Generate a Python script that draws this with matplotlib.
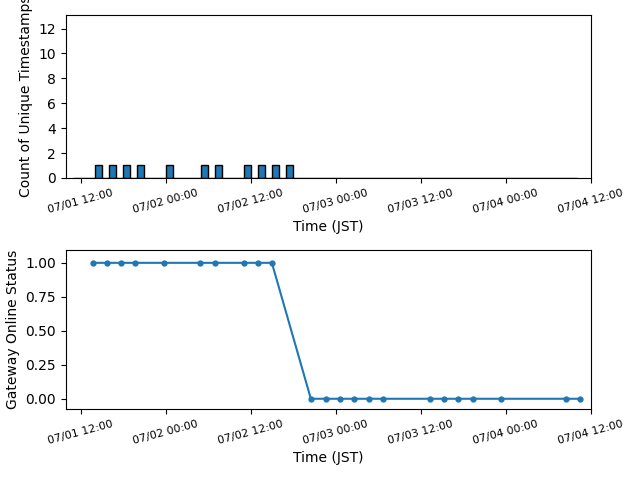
import matplotlib
matplotlib.use("Agg")
import matplotlib.pyplot as plt
import matplotlib.dates as mdates
from matplotlib.ticker import MultipleLocator
import pandas as pd
import numpy as np

# 1時間ごとのビン範囲（各ビンの開始時刻）
bin_start = "2024-07-01 11:00"
bin_end = "2024-07-04 09:00"
# ユニークなタイムスタンプがあった時間帯
bar_hours = ["2024-07-01 14:00", "2024-07-01 16:00", "2024-07-01 18:00", "2024-07-01 20:00",
             "2024-07-02 00:00", "2024-07-02 05:00", "2024-07-02 07:00", "2024-07-02 11:00",
             "2024-07-02 13:00", "2024-07-02 15:00", "2024-07-02 17:00"]
bar_counts = [1, 1, 1, 1, 1, 1, 1, 1, 1, 1, 1]

# ゲートウェイのオンライン状態
status_times = ["2024-07-01 13:45", "2024-07-01 15:45", "2024-07-01 17:45", "2024-07-01 19:45",
                "2024-07-01 23:45", "2024-07-02 04:50", "2024-07-02 07:00", "2024-07-02 11:05",
                "2024-07-02 13:05", "2024-07-02 15:00", "2024-07-02 20:30", "2024-07-02 22:35",
                "2024-07-03 00:35", "2024-07-03 02:35", "2024-07-03 04:40", "2024-07-03 06:40",
                "2024-07-03 13:15", "2024-07-03 15:15", "2024-07-03 17:15", "2024-07-03 19:20",
                "2024-07-03 23:20", "2024-07-04 08:30", "2024-07-04 10:30"]
status_values = [1, 1, 1, 1, 1, 1, 1, 1, 1, 1,
                 0, 0, 0, 0, 0, 0, 0, 0, 0, 0, 0, 0, 0]

xlim = (pd.Timestamp("2024-07-01 09:56"), pd.Timestamp("2024-07-04 12:00"))

bins = pd.date_range(bin_start, bin_end, freq="h")
counts = pd.Series(0, index=bins)
for t, c in zip(pd.to_datetime(bar_hours), bar_counts):
    counts[t] += c

fig, (ax1, ax2) = plt.subplots(2, 1, figsize=(6.4, 4.8), dpi=100,
                               gridspec_kw={"height_ratios": [163, 159]})

ax1.bar(counts.index, counts.values, width=1 / 24, align="edge", color="C0", edgecolor="black")
ax1.set_ylim(0, 13.1)
ax1.yaxis.set_major_locator(MultipleLocator(2))
ax1.set_ylabel("Count of Unique Timestamps")
ax1.set_xlabel("Time (JST)")

ax2.plot(pd.to_datetime(status_times), status_values, marker="o", markersize=3.5, color="C0")
ax2.set_ylim(-0.075, 1.095)
ax2.set_ylabel("Gateway Online Status")
ax2.set_xlabel("Time (JST)")

for ax in (ax1, ax2):
    ax.set_xlim(xlim)
    ax.xaxis.set_major_locator(mdates.HourLocator(byhour=[0, 12]))
    ax.xaxis.set_major_formatter(mdates.DateFormatter("%m/%d %H:%M"))
    plt.setp(ax.get_xticklabels(), rotation=15, fontsize=8)

# 参照画像に合わせた余白
plt.subplots_adjust(left=0.103, right=0.923, top=0.969, bottom=0.148, hspace=0.447)
plt.savefig("out.png")
